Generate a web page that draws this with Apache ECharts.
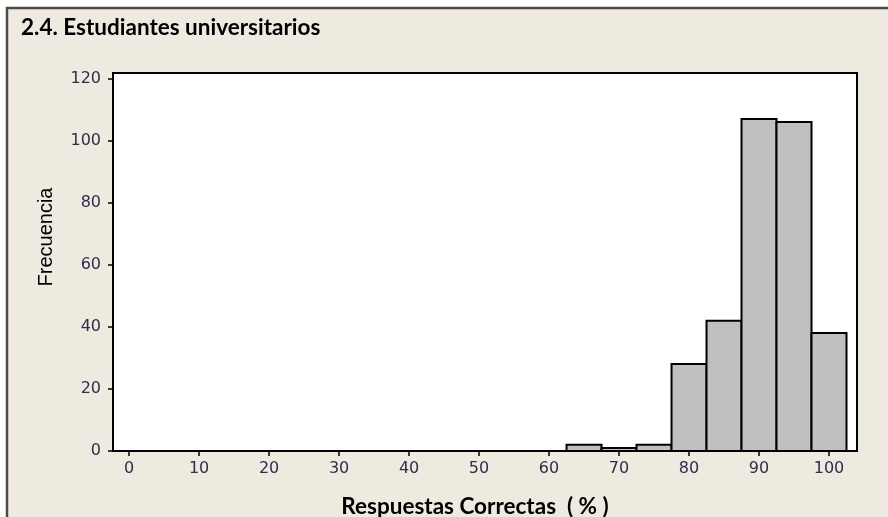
<!DOCTYPE html>
<html>
<head>
<meta charset="utf-8">
<script src="https://cdn.jsdelivr.net/npm/echarts@6/dist/echarts.min.js"></script>
<style>
  html, body { margin: 0; padding: 0; background: #ffffff; }
  #chart { width: 888px; height: 517px; }
</style>
</head>
<body>
<div id="chart"></div>
<script>
// Histogram bins (percentage of correct answers), bin width 5
const binCenters = [65, 70, 75, 80, 85, 90, 95, 100];
const frequencies = [2, 1, 2, 28, 42, 107, 106, 38];
const binWidth = 5;

// Tick positions and labels
const xTicks = [0, 10, 20, 30, 40, 50, 60, 70, 80, 90, 100];
const yTicks = [0, 20, 40, 60, 80, 100, 120];

const titleText = '2.4. Estudiantes universitarios';
const xAxisName = 'Respuestas Correctas  ( % )';
const yAxisName = 'Frecuencia';

const chart = echarts.init(document.getElementById('chart'), null, { renderer: 'canvas' });

const barData = binCenters.map((c, i) => [c - binWidth / 2, c + binWidth / 2, frequencies[i]]);

const tickLabelStyle = {
  fontFamily: 'DejaVu Sans',
  fontSize: 16,
  color: '#2b2f4a'
};

chart.setOption({
  backgroundColor: '#ffffff',
  animation: false,
  graphic: [
    {
      type: 'rect', z: -10, silent: true,
      shape: { x: 8, y: 9, width: 880, height: 508 },
      style: { fill: '#eeeae0' }
    },
    {
      type: 'polyline', z: 10, silent: true,
      shape: { points: [[7, 517], [7, 8], [888, 8]] },
      style: { stroke: '#4a4a4a', lineWidth: 2.5, fill: null }
    },
    {
      type: 'text', z: 10,
      style: {
        text: titleText,
        font: 'bold 22.5px Lato',
        fill: '#000000',
        x: 21, y: 16,
        align: 'left',
        verticalAlign: 'top'
      }
    },
    {
      type: 'text', z: 10,
      style: {
        text: xAxisName,
        font: 'bold 22.5px Lato',
        fill: '#000000',
        x: 475, y: 495,
        align: 'center',
        verticalAlign: 'top'
      }
    },
    {
      type: 'text', z: 10,
      rotation: Math.PI / 2,
      x: 46, y: 237,
      style: {
        text: yAxisName,
        font: '20px "Liberation Sans"',
        fill: '#000000',
        x: 0, y: 0,
        align: 'center',
        verticalAlign: 'middle'
      }
    }
  ],
  grid: {
    left: 113, top: 73, right: 31, bottom: 66,
    show: true,
    backgroundColor: '#ffffff',
    borderColor: '#000000',
    borderWidth: 2
  },
  xAxis: {
    type: 'value',
    min: -2.3,
    max: 104,
    axisLine: { show: true, onZero: false, lineStyle: { color: '#000000', width: 2 } },
    axisTick: {
      show: true, length: 5, inside: false,
      customValues: xTicks,
      lineStyle: { color: '#000000', width: 1.5 }
    },
    axisLabel: Object.assign({ customValues: xTicks, margin: 10 }, tickLabelStyle),
    splitLine: { show: false }
  },
  yAxis: {
    type: 'value',
    min: 0,
    max: 121.8,
    axisLine: { show: true, onZero: false, lineStyle: { color: '#000000', width: 2 } },
    axisTick: {
      show: true, length: 5, inside: false,
      customValues: yTicks,
      lineStyle: { color: '#000000', width: 1.5 }
    },
    axisLabel: Object.assign({ customValues: yTicks, margin: 12 }, tickLabelStyle),
    splitLine: { show: false }
  },
  series: [{
    type: 'custom',
    data: barData,
    encode: { x: [0, 1], y: 2 },
    renderItem: function (params, api) {
      const p0 = api.coord([api.value(0), api.value(2)]);
      const p1 = api.coord([api.value(1), 0]);
      return {
        type: 'rect',
        shape: { x: p0[0], y: p0[1], width: p1[0] - p0[0], height: p1[1] - p0[1] },
        style: { fill: '#c0c0c0', stroke: '#000000', lineWidth: 2 }
      };
    }
  }]
});
</script>
</body>
</html>
